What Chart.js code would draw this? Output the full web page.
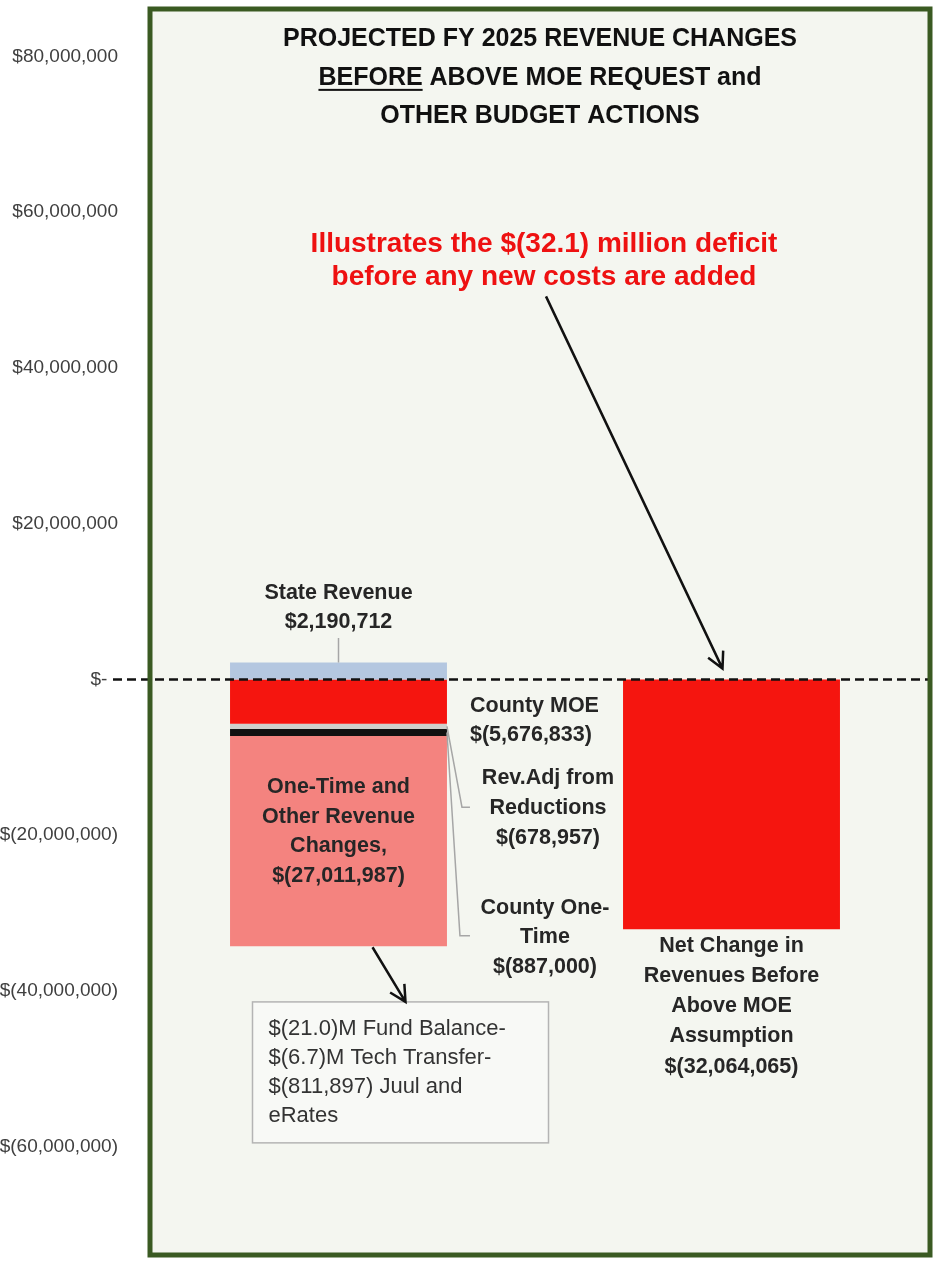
<!DOCTYPE html>
<html>
<head>
<meta charset="utf-8">
<script src="https://cdn.jsdelivr.net/npm/chart.js@4.4.1/dist/chart.umd.min.js"></script>
<style>
  html, body { margin: 0; padding: 0; background: #ffffff; }
  #wrap { width: 935px; height: 1261px; position: relative; }
</style>
</head>
<body>
<div id="wrap"><canvas id="chart"></canvas></div>
<script>
// values
const categories = ['Revenue Changes', 'Net Change'];
const stateRevenue = [2190712, null];
const countyMOE = [-5676833, null];
const revAdjReductions = [-678957, null];
const countyOneTime = [-887000, null];
const oneTimeOther = [-27011987, null];
const netChange = [null, -32064065];

const yTicks = [-60000000, -40000000, -20000000, 0, 20000000, 40000000, 60000000, 80000000];
const yMin = -73900000;
const yMax = 86100000;

const titleLines = ['PROJECTED FY 2025 REVENUE CHANGES', 'BEFORE ABOVE MOE REQUEST and', 'OTHER BUDGET ACTIONS'];
const calloutLines = ['Illustrates the $(32.1) million deficit', 'before any new costs are added'];
const stateLabel = ['State Revenue', '$2,190,712'];
const moeLabel = ['County MOE', '$(5,676,833)'];
const revAdjLabel = ['Rev.Adj from', 'Reductions', '$(678,957)'];
const countyOneTimeLabel = ['County One-', 'Time', '$(887,000)'];
const otherLabel = ['One-Time and', 'Other Revenue', 'Changes,', '$(27,011,987)'];
const netLabel = ['Net Change in', 'Revenues Before', 'Above MOE', 'Assumption', '$(32,064,065)'];
const boxLines = ['$(21.0)M Fund Balance-', '$(6.7)M Tech Transfer-', '$(811,897) Juul and', 'eRates'];

const FONT = '"Liberation Sans", Arial, sans-serif';
const M = 1000000;

// accounting style, like the spreadsheet: "$-" for zero, brackets for negatives
function money(v) {
  if (v === 0) return '$-  ';
  const s = Math.abs(v).toLocaleString('en-US');
  return v < 0 ? '$(' + s + ')' : '$' + s;
}

function drawLines(ctx, arr, x, y, lh) {
  arr.forEach((t, i) => ctx.fillText(t, x, y + i * lh));
}

function arrow(ctx, x1, y1, x2, y2) {
  const a = Math.atan2(y2 - y1, x2 - x1);
  const len = 18, spread = 0.48;
  ctx.beginPath();
  ctx.moveTo(x1, y1);
  ctx.lineTo(x2, y2);
  ctx.moveTo(x2 - len * Math.cos(a - spread), y2 - len * Math.sin(a - spread));
  ctx.lineTo(x2, y2);
  ctx.lineTo(x2 - len * Math.cos(a + spread), y2 - len * Math.sin(a + spread));
  ctx.stroke();
}

// plot background, green frame, zero line and all the call-outs
const decorations = {
  id: 'decorations',
  beforeDraw(chart) {
    const { ctx, chartArea: ca } = chart;
    ctx.save();
    ctx.fillStyle = '#f4f6f0';
    ctx.fillRect(ca.left + 8, ca.top, ca.right - ca.left - 6, ca.bottom - ca.top);
    ctx.restore();
  },
  afterDatasetsDraw(chart) {
    const { ctx, chartArea: ca } = chart;
    const y = chart.scales.y;
    const Y = v => y.getPixelForValue(v * M);
    const frameL = ca.left + 8, frameR = ca.right + 2;
    const frameC = (frameL + frameR) / 2;

    const bar1 = chart.getDatasetMeta(4).data[0];
    const b1x = bar1.x, b1r = bar1.x + bar1.width / 2;
    const b2x = chart.getDatasetMeta(5).data[1].x;
    const stateBar = chart.getDatasetMeta(0).data[0];
    const revBar = chart.getDatasetMeta(2).data[0];
    const cotBar = chart.getDatasetMeta(3).data[0];

    ctx.save();

    // dashed zero line
    ctx.strokeStyle = '#111';
    ctx.lineWidth = 2.5;
    ctx.setLineDash([9, 5]);
    ctx.beginPath();
    ctx.moveTo(113, Y(0));
    ctx.lineTo(frameR, Y(0));
    ctx.stroke();
    ctx.setLineDash([]);

    // frame
    ctx.strokeStyle = '#3a5a22';
    ctx.lineWidth = 5;
    ctx.strokeRect(frameL, ca.top, frameR - frameL, ca.bottom - ca.top);

    // leader lines
    ctx.strokeStyle = '#a6a6a6';
    ctx.lineWidth = 1.5;
    ctx.beginPath();
    ctx.moveTo(b1x, Y(5.33));
    ctx.lineTo(b1x, stateBar.y);
    ctx.moveTo(b1r, (revBar.y + revBar.base) / 2);
    ctx.lineTo(b1r + 15, Y(-16.4));
    ctx.lineTo(b1r + 23, Y(-16.4));
    ctx.moveTo(b1r, (cotBar.y + cotBar.base) / 2);
    ctx.lineTo(b1r + 13, Y(-32.9));
    ctx.lineTo(b1r + 23, Y(-32.9));
    ctx.stroke();

    // text box
    const boxL = b1x - 86, boxR = b1x + 210;
    ctx.fillStyle = '#f8f9f6';
    ctx.fillRect(boxL, Y(-41.4), boxR - boxL, Y(-59.5) - Y(-41.4));
    ctx.strokeStyle = '#b4b4b4';
    ctx.lineWidth = 1.5;
    ctx.strokeRect(boxL, Y(-41.4), boxR - boxL, Y(-59.5) - Y(-41.4));

    // arrows
    ctx.strokeStyle = '#111';
    ctx.lineWidth = 2.5;
    arrow(ctx, b1x + 34, bar1.y + 1, b1x + 67, Y(-41.4));
    arrow(ctx, frameC + 6, Y(49.2), b2x - 9, Y(1.4));

    ctx.textBaseline = 'middle';

    // title
    ctx.fillStyle = '#111';
    ctx.font = 'bold 25px ' + FONT;
    ctx.textAlign = 'center';
    const tY = Y(82.2), tLh = 38.5;
    ctx.fillText(titleLines[0], frameC, tY);
    ctx.fillText(titleLines[2], frameC, tY + 2 * tLh);
    const under = 'BEFORE';
    const rest = titleLines[1].slice(under.length);
    const wU = ctx.measureText(under).width, wR = ctx.measureText(rest).width;
    const x0 = frameC - (wU + wR) / 2;
    ctx.textAlign = 'left';
    ctx.fillText(under, x0, tY + tLh);
    ctx.fillText(rest, x0 + wU, tY + tLh);
    ctx.fillRect(x0, tY + tLh + 11, wU, 2);

    // red call-out
    ctx.textAlign = 'center';
    ctx.fillStyle = '#ee1111';
    ctx.font = 'bold 28px ' + FONT;
    drawLines(ctx, calloutLines, frameC + 4, Y(55.9), 33);

    // segment labels
    ctx.fillStyle = '#262626';
    ctx.font = 'bold 21.5px ' + FONT;
    drawLines(ctx, stateLabel, b1x, Y(11.1), 29);
    drawLines(ctx, otherLabel, b1x, Y(-13.8), 29.7);
    drawLines(ctx, netLabel, b2x, Y(-34.2), 30.2);
    drawLines(ctx, revAdjLabel, b1r + 101, Y(-12.65), 30);
    drawLines(ctx, countyOneTimeLabel, b1r + 98, Y(-29.35), 29.5);
    ctx.textAlign = 'left';
    drawLines(ctx, moeLabel, b1r + 23, Y(-3.4), 29);

    // box text
    ctx.fillStyle = '#333';
    ctx.font = '22px ' + FONT;
    drawLines(ctx, boxLines, boxL + 16, Y(-44.9), 29);

    ctx.restore();
  }
};

const seg = (data, color) => ({
  data, backgroundColor: color, borderWidth: 0, stack: 'a',
  barPercentage: 0.552, categoryPercentage: 1
});

new Chart(document.getElementById('chart'), {
  type: 'bar',
  data: {
    labels: categories,
    datasets: [
      seg(stateRevenue, '#b4c7e0'),
      seg(countyMOE, '#f5150f'),
      seg(revAdjReductions, '#cfd0cc'),
      seg(countyOneTime, '#111111'),
      seg(oneTimeOther, '#f4837f'),
      seg(netChange, '#f5150f')
    ]
  },
  options: {
    responsive: true,
    maintainAspectRatio: false,
    animation: false,
    layout: { padding: { top: 9, bottom: 6, right: 7, left: 0 } },
    plugins: { legend: { display: false }, tooltip: { enabled: false } },
    scales: {
      x: { stacked: true, display: false },
      y: {
        stacked: true,
        min: yMin,
        max: yMax,
        afterBuildTicks: s => { s.ticks = yTicks.map(v => ({ value: v })); },
        afterFit: s => { s.width = 142; s.paddingTop = 0; s.paddingBottom = 0; },
        grid: { display: false, drawTicks: false },
        border: { display: false },
        ticks: {
          callback: v => money(v),
          font: { family: FONT, size: 19 },
          color: '#404040',
          padding: 24
        }
      }
    }
  },
  plugins: [decorations]
});
</script>
</body>
</html>
